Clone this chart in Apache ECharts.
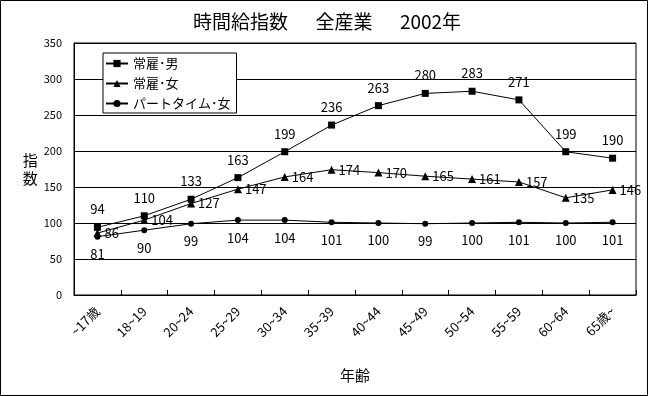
<!DOCTYPE html>
<html>
<head>
    <meta charset="utf-8">
    <title>時間給指数</title>
    <script src="https://cdn.jsdelivr.net/npm/echarts@6/dist/echarts.min.js"></script>
    <style>
        body { margin: 0; background: #fff; }
    </style>
</head>
<body>
    <div id="container" style="width: 648px;height:396px;"></div>
    <script type="text/javascript">
        // 年齢階級
        var categories = ['~17歳', '18~19', '20~24', '25~29', '30~34', '35~39',
                          '40~44', '45~49', '50~54', '55~59', '60~64', '65歳~'];
        // 各系列の指数
        var regularMale   = [94, 110, 133, 163, 199, 236, 263, 280, 283, 271, 199, 190];
        var regularFemale = [86, 104, 127, 147, 164, 174, 170, 165, 161, 157, 135, 146];
        var partFemale    = [81, 90, 99, 104, 104, 101, 100, 99, 100, 101, 100, 101];
        var yTicks = [0, 50, 100, 150, 200, 250, 300, 350];

        var FONT = '"Noto Sans CJK JP", sans-serif';
        var myChart = echarts.init(document.getElementById('container'));

        function lineSeries(name, data, symbol, size, pos, dist) {
            return {
                name: name,
                type: 'line',
                data: data,
                symbol: symbol,
                symbolSize: size,
                lineStyle: { color: '#000', width: 1 },
                itemStyle: { color: '#000' },
                label: {
                    show: true,
                    position: pos,
                    distance: dist,
                    color: '#000',
                    fontFamily: FONT,
                    fontSize: 13
                },
                animation: false
            };
        }

        var option = {
            backgroundColor: '#fff',
            textStyle: { fontFamily: FONT, color: '#000' },
            title: {
                text: '時間給指数　  全産業　  2002年',
                left: 322,
                textAlign: 'center',
                top: 7,
                textStyle: { fontFamily: FONT, fontSize: 19, fontWeight: 'normal', color: '#000' }
            },
            legend: {
                orient: 'vertical',
                left: 103,
                top: 53,
                padding: [4, 6, 3, 2],
                itemGap: 7,
                itemWidth: 22,
                itemHeight: 9,
                backgroundColor: '#fff',
                borderColor: '#000',
                borderWidth: 1,
                borderRadius: 0,
                textStyle: { fontFamily: FONT, fontSize: 13, color: '#000' },
                data: ['常雇･男', '常雇･女', 'パートタイム･女']
            },
            grid: {
                left: 74,
                right: 12,
                top: 43,
                bottom: 101,
                show: true,
                borderColor: '#000',
                borderWidth: 1
            },
            xAxis: {
                type: 'category',
                data: categories,
                name: '年齢',
                nameLocation: 'middle',
                nameGap: 73,
                nameTextStyle: { fontFamily: FONT, fontSize: 15, color: '#000' },
                axisLine: { lineStyle: { color: '#000' } },
                axisTick: { show: true, inside: true, length: 5, lineStyle: { color: '#000' } },
                axisLabel: { rotate: 45, color: '#000', fontFamily: FONT, fontSize: 13, margin: 14, interval: 0 }
            },
            yAxis: {
                type: 'value',
                min: yTicks[0],
                max: yTicks[yTicks.length - 1],
                interval: 50,
                name: '指\n数',
                nameLocation: 'middle',
                nameRotate: 0,
                nameGap: 31,
                nameTextStyle: { fontFamily: FONT, fontSize: 15, color: '#000', lineHeight: 18 },
                axisLine: { show: true, lineStyle: { color: '#000' } },
                axisTick: { show: false },
                axisLabel: { color: '#000', fontFamily: FONT, fontSize: 11, margin: 12 },
                splitLine: { lineStyle: { color: '#000', width: 1 } }
            },
            graphic: [{
                type: 'rect',
                shape: { x: 0.5, y: 0.5, width: 647, height: 395 },
                style: { fill: null, stroke: '#000', lineWidth: 1 },
                silent: true
            }],
            series: [
                lineSeries('常雇･男', regularMale, 'rect', 7, 'top', 8),
                lineSeries('常雇･女', regularFemale, 'triangle', 8, 'right', 3),
                lineSeries('パートタイム･女', partFemale, 'circle', 6, 'bottom', 8)
            ]
        };

        myChart.setOption(option);
    </script>
</body>
</html>
